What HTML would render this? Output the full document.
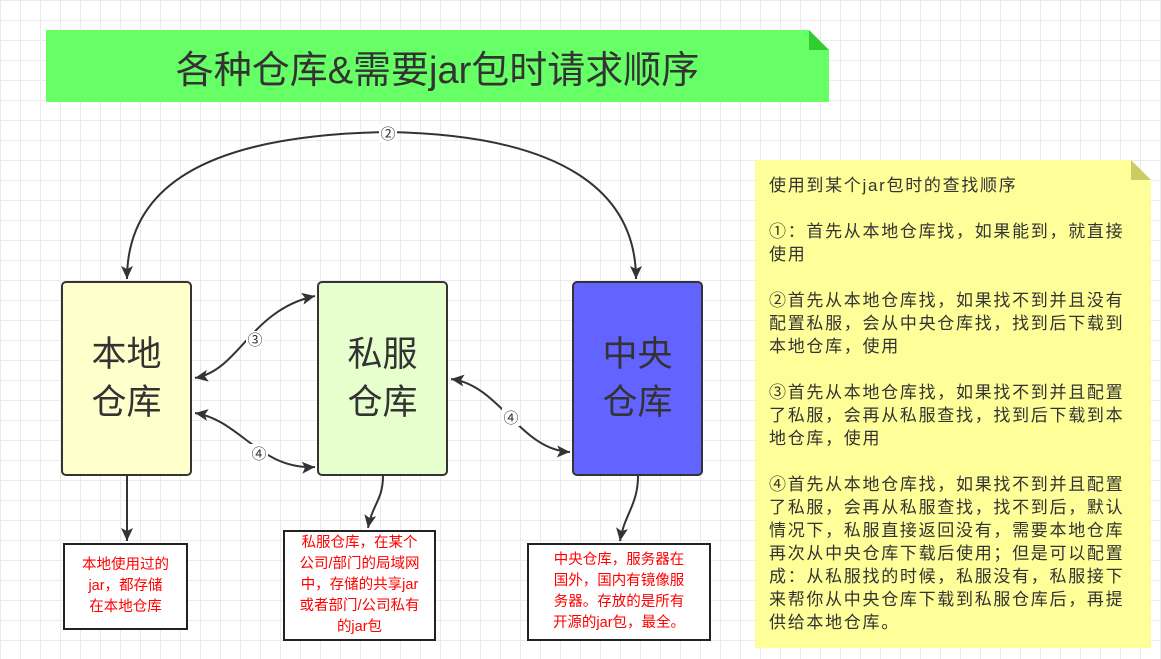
<!DOCTYPE html>
<html><head><meta charset="utf-8"><style>
body{margin:0;width:1161px;height:659px;overflow:hidden;background:#fff;
background-image:linear-gradient(#ebebeb 1px,transparent 1px),linear-gradient(90deg,#ebebeb 1px,transparent 1px);background-size:20px 20px;
font-family:"Liberation Sans","Noto Sans CJK SC",sans-serif;position:relative}
.a{position:absolute}
.box{position:absolute;border:2px solid #333;border-radius:5px;box-sizing:border-box;display:flex;align-items:center;justify-content:center;text-align:center;font-size:35px;line-height:48px;color:#333}
.note{position:absolute;border:2px solid #222;box-sizing:border-box;background:#fff;color:#f00;font-size:14.5px;line-height:21px;display:flex;align-items:center;justify-content:center;text-align:center}
</style></head><body>
<div class="a" style="left:46px;top:30px;width:783px;height:72px;background:#66ff66;clip-path:polygon(0 0,763px 0,783px 20px,783px 72px,0 72px)"></div>
<div class="a" style="left:809px;top:30px;width:20px;height:20px;background:#33cc33;clip-path:polygon(0 0,100% 100%,0 100%)"></div>
<div class="a" style="left:46px;top:30px;width:783px;height:72px;display:flex;align-items:center;justify-content:center;font-size:38px;color:#333">各种仓库&amp;需要jar包时请求顺序</div>

<div class="box" style="left:61px;top:281px;width:131px;height:195px;background:#ffffcc">本地<br>仓库</div>
<div class="box" style="left:317px;top:281px;width:131px;height:195px;background:#e6ffcc">私服<br>仓库</div>
<div class="box" style="left:572px;top:281px;width:131px;height:195px;background:#6363ff">中央<br>仓库</div>

<div class="note" style="left:63px;top:543px;width:125px;height:87px">本地使用过的<br>jar，都存储<br>在本地仓库</div>
<div class="note" style="left:283px;top:530px;width:153px;height:111px">私服仓库，在某个<br>公司/部门的局域网<br>中，存储的共享jar<br>或者部门/公司私有<br>的jar包</div>
<div class="note" style="left:527px;top:543px;width:184px;height:98px">中央仓库，服务器在<br>国外，国内有镜像服<br>务器。存放的是所有<br>开源的jar包，最全。</div>

<svg class="a" style="left:0;top:0" width="1161" height="659">
<defs><marker id="m" markerWidth="14" markerHeight="14" refX="13" refY="6" orient="auto-start-reverse" markerUnits="userSpaceOnUse"><path d="M0,0 L13,6 L0,12 L3,6 z" fill="#333"/></marker></defs>
<g fill="none" stroke="#333" stroke-width="2">
<path d="M388,132 C200,135 127,190 127,279" marker-end="url(#m)"/>
<path d="M388,132 C560,135 636,190 636,279" marker-end="url(#m)"/>
<path d="M195,378 C240,370 250,310 315,296" marker-start="url(#m)" marker-end="url(#m)"/>
<path d="M195,413 C240,420 260,470 315,467" marker-start="url(#m)" marker-end="url(#m)"/>
<path d="M451,379 C500,385 520,450 570,452" marker-start="url(#m)" marker-end="url(#m)"/>
<path d="M127,476 L127,541" marker-end="url(#m)"/>
<path d="M383,476 C383,500 372,505 368,528" marker-end="url(#m)"/>
<path d="M638,476 C638,505 624,515 620,541" marker-end="url(#m)"/>
</g>
<g font-size="15" fill="#333" text-anchor="middle" font-family="Liberation Sans,Noto Sans CJK SC,sans-serif">
<rect x="379" y="124" width="18" height="18" fill="#fff"/><text x="388" y="139">②</text>
<rect x="246" y="331" width="18" height="18" fill="#fff"/><text x="255" y="345">③</text>
<rect x="250" y="444" width="18" height="18" fill="#fff"/><text x="259" y="459">④</text>
<rect x="502" y="408" width="18" height="18" fill="#fff"/><text x="511" y="423">④</text>
</g>
</svg>

<div class="a" style="left:755px;top:160px;width:396px;height:488px;background:#ffff99;clip-path:polygon(0 0,376px 0,396px 20px,396px 488px,0 488px)"></div>
<div class="a" style="left:1131px;top:160px;width:20px;height:20px;background:#cccc66;clip-path:polygon(0 0,100% 100%,0 100%)"></div>
<div class="a" style="left:769px;top:174px;font-size:17px;line-height:23px;color:#333;white-space:nowrap;letter-spacing:1.7px">使用到某个jar包时的查找顺序<br><br>①：首先从本地仓库找，如果能到，就直接<br>使用<br><br>②首先从本地仓库找，如果找不到并且没有<br>配置私服，会从中央仓库找，找到后下载到<br>本地仓库，使用<br><br>③首先从本地仓库找，如果找不到并且配置<br>了私服，会再从私服查找，找到后下载到本<br>地仓库，使用<br><br>④首先从本地仓库找，如果找不到并且配置<br>了私服，会再从私服查找，找不到后，默认<br>情况下，私服直接返回没有，需要本地仓库<br>再次从中央仓库下载后使用；但是可以配置<br>成：从私服找的时候，私服没有，私服接下<br>来帮你从中央仓库下载到私服仓库后，再提<br>供给本地仓库。</div>
</body></html>
